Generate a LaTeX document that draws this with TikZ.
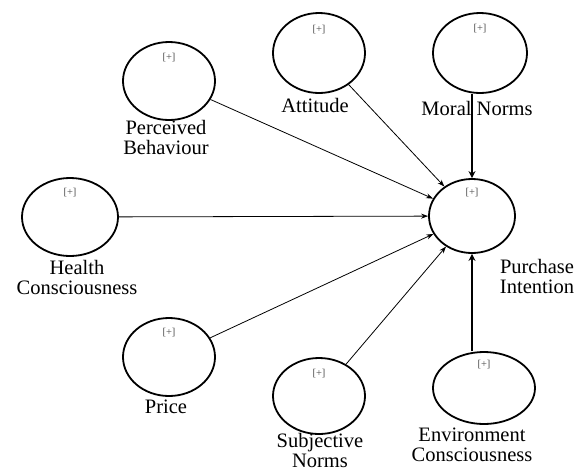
\documentclass[tikz,border=0pt]{standalone}
\usepackage{fontspec}
\setmainfont{Liberation Serif}
\usetikzlibrary{arrows.meta,shapes.geometric}
\begin{document}
\begin{tikzpicture}[x=1pt,y=-1pt,
  lv/.style={ellipse, draw, line width=1.8pt, inner sep=0pt},
  plus/.style={font=\fontsize{10.5}{11}\selectfont, text=black!70, inner sep=0pt},
  lab/.style={font=\fontsize{20.5}{20}\selectfont, align=center, inner sep=0pt},
  thin/.style={line width=0.8pt, -{Stealth[length=7pt,width=5pt]}},
  thick/.style={line width=2.2pt, -{Stealth[length=7pt,width=7pt]}}]
\useasboundingbox (0,0) rectangle (581,472);
% latent variables
\node[lv, minimum width=92pt, minimum height=78pt] (pb) at (169,81) {};
\node[lv, minimum width=92pt, minimum height=80pt] (at) at (319,53) {};
\node[lv, minimum width=94pt, minimum height=80pt] (mn) at (480,53) {};
\node[lv, minimum width=96pt, minimum height=78pt] (hc) at (70,217) {};
\node[lv, minimum width=86pt, minimum height=74pt] (pi) at (472,216) {};
\node[lv, minimum width=92pt, minimum height=78pt] (pr) at (169,357) {};
\node[lv, minimum width=92pt, minimum height=76pt] (sn) at (319,396) {};
\node[lv, minimum width=102pt, minimum height=72pt] (ec) at (484,388) {};
% [+] marks
\node[plus] (pbp) at ([yshift=23pt]pb.center) {[+]};
\node[plus] (atp) at ([yshift=23pt]at.center) {[+]};
\node[plus] (mnp) at ([yshift=24pt]mn.center) {[+]};
\node[plus] (hcp) at ([yshift=24pt]hc.center) {[+]};
\node[plus] (pip) at ([yshift=23pt]pi.center) {[+]};
\node[plus] (prp) at ([yshift=24pt]pr.center) {[+]};
\node[plus] (snp) at ([yshift=22pt]sn.center) {[+]};
\node[plus] (ecp) at ([yshift=23pt]ec.center) {[+]};
% labels
\node[lab] (pbl) at (166,137) {Perceived\\Behaviour};
\node[lab] (atl) at (315,105) {Attitude};
\node[lab] (mnl) at (477,108) {Moral Norms};
\node[lab] (hcl) at (77,277) {Health\\Consciousness};
\node[lab] (pil) at (537,276) {Purchase\\Intention};
\node[lab] (prl) at (166,407) {Price};
\node[lab] (snl) at (320,450) {Subjective\\Norms};
\node[lab] (ecl) at (472,445) {Environment\\Consciousness};
% paths
\draw[thin] (pb) -- (pi);
\draw[thin] (at) -- (pi);
\draw[thin] (hc) -- (pi);
\draw[thin] (pr) -- (pi);
\draw[thin] (sn) -- (pi);
\draw[thick] (pi.north |- mn.south) -- (pi.north);
\draw[thick] (pi.south |- ec.north) -- (pi.south);
\end{tikzpicture}
\end{document}
